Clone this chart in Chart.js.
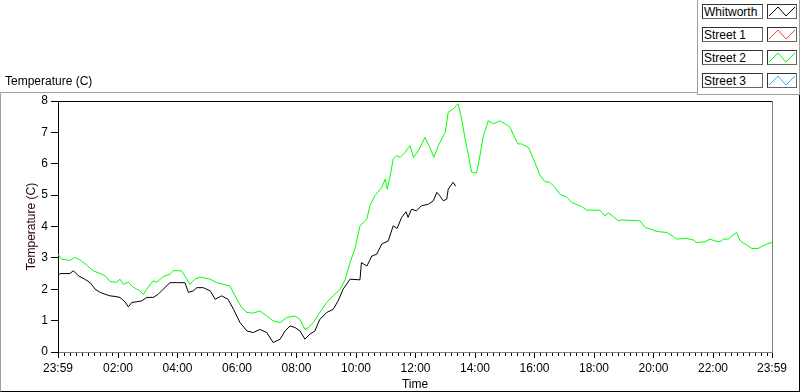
<!DOCTYPE html>
<html><head><meta charset="utf-8">
<script src="https://cdn.jsdelivr.net/npm/chart.js@4/dist/chart.umd.min.js"></script>
<style>
html,body{margin:0;padding:0;background:#fff;}
#wrap{position:relative;width:800px;height:392px;overflow:hidden;font-family:"Liberation Sans",Arial,sans-serif;font-size:12px;color:#000;}
#c{position:absolute;left:0;top:0;}
#frame{position:absolute;left:0;top:92px;width:798px;height:298px;border-left:1px solid #a0a0a0;border-top:1px solid #a0a0a0;border-right:1px solid #000;border-bottom:1px solid #000;}
#legend{position:absolute;left:697px;top:-1px;width:101px;height:95px;background:#fff;border-left:1px solid #a0a0a0;border-right:1px solid #a0a0a0;border-bottom:1px solid #a0a0a0;}
.row{position:absolute;left:4px;height:15px;}
.name{position:absolute;left:0;top:0;width:58px;height:13px;border-top:1px solid #333;border-left:1px solid #333;border-bottom:1px solid #666;border-right:1px solid #666;line-height:14px;padding-left:1px;white-space:nowrap;}
.samp{position:absolute;left:65px;top:0;width:28px;height:13px;border-top:1px solid #333;border-left:1px solid #333;border-bottom:1px solid #666;border-right:1px solid #666;}
.samp svg{position:absolute;left:0;top:0;}
#title{position:absolute;left:5px;top:74px;white-space:nowrap;}
</style></head>
<body>
<div id="wrap">
<canvas id="c" width="800" height="392"></canvas>
<div id="frame"></div>
<div id="title">Temperature (C)</div>
<div id="legend"></div>
</div>
<script>
// ---- data (minutes after 23:59 of previous day, temperature in C) ----
const seriesNames = ['Whitworth', 'Street 1', 'Street 2', 'Street 3'];
const seriesColors = ['#000000', '#ff3c3c', '#00ff00', '#33b5ff'];

const whitworthMinutes = [0,4,24,31,41,54,65,75,85,95,105,115,125,135,142,149,159,169,179,192,202,212,226,239,256,263,273,280,293,307,317,330,343,354,367,381,394,407,421,434,448,458,468,478,488,498,508,518,528,542,555,565,575,589,609,612,623,633,643,653,666,676,684,693,702,706,713,723,733,747,757,764,770,777,784,787,797,802];
const whitworthTemps = [2.43,2.5,2.5,2.59,2.43,2.32,2.21,2.0,1.9,1.84,1.79,1.77,1.74,1.6,1.44,1.58,1.6,1.63,1.74,1.74,1.84,2.0,2.21,2.21,2.21,1.9,1.95,2.05,2.05,1.95,1.68,1.79,1.68,1.36,0.94,0.67,0.62,0.72,0.62,0.30,0.41,0.67,0.83,0.78,0.67,0.41,0.57,0.67,1.04,1.26,1.36,1.63,2.0,2.32,2.30,2.85,2.74,3.06,3.12,3.44,3.54,4.02,3.94,4.29,4.47,4.29,4.55,4.5,4.66,4.71,4.82,5.09,4.98,4.82,4.87,5.19,5.41,5.28];

const street1Minutes = [];
const street1Temps = [];

const street2Minutes = [0,7,24,34,44,58,71,85,95,105,118,125,132,142,149,159,165,172,179,192,199,212,226,233,249,260,266,276,286,307,320,333,347,357,370,381,394,407,421,434,448,461,478,488,498,505,515,528,542,555,569,579,589,599,609,623,629,639,653,660,664,670,676,683,690,700,710,717,727,740,750,758,767,781,787,797,807,814,821,828,834,844,851,858,868,878,891,902,912,922,928,935,949,959,972,982,992,1002,1012,1026,1036,1049,1056,1066,1093,1103,1110,1120,1130,1137,1174,1184,1194,1204,1214,1228,1241,1248,1268,1281,1288,1305,1315,1325,1335,1342,1352,1359,1369,1376,1382,1389,1399,1412,1419,1429,1440];
const street2Temps = [3.12,2.96,2.92,3.01,2.94,2.77,2.59,2.5,2.43,2.25,2.22,2.32,2.16,2.23,2.1,2.0,1.95,1.84,2.0,2.27,2.22,2.4,2.48,2.59,2.59,2.32,2.16,2.32,2.39,2.32,2.21,2.16,2.1,1.79,1.42,1.26,1.24,1.31,1.15,0.99,0.94,1.1,1.15,1.04,0.72,0.78,0.94,1.26,1.58,1.79,2.0,2.3,2.85,3.3,4.02,4.24,4.66,4.98,5.25,5.51,5.19,5.62,6.15,6.26,6.2,6.36,6.58,6.2,6.42,6.84,6.52,6.2,6.58,7.0,7.64,7.75,7.91,7.43,6.79,6.26,5.73,5.70,6.26,6.9,7.37,7.27,7.37,7.27,7.16,6.79,6.63,6.63,6.52,6.15,5.63,5.43,5.41,5.25,5.03,4.93,4.77,4.68,4.64,4.52,4.52,4.34,4.43,4.32,4.18,4.21,4.18,3.97,3.92,3.86,3.83,3.81,3.68,3.6,3.62,3.57,3.49,3.51,3.6,3.54,3.51,3.6,3.6,3.70,3.81,3.54,3.47,3.41,3.3,3.3,3.36,3.44,3.49];

const street3Minutes = [];
const street3Temps = [];

const xTickMinutes = [0,121,241,361,481,601,721,841,961,1081,1201,1321,1440];
const yTickValues = [0,1,2,3,4,5,6,7,8];

// ---- helpers ----
function pts(ms, vs){ return ms.map((m,i)=>({x:m, y:vs[i]})); }
function fmtTime(v){ const t=(1439+v)%1440; const h=Math.floor(t/60), m=t%60; return String(h).padStart(2,'0')+':'+String(m).padStart(2,'0'); }
const minorTicks = [0]; for(let m=1;m<1440;m+=12) minorTicks.push(m); minorTicks.push(1440);
const majorSet = new Set(xTickMinutes);

// legend (HTML)
const leg = document.getElementById('legend');
seriesNames.forEach((n,i)=>{
  const r=document.createElement('div'); r.className='row'; r.style.top=(5+i*23)+'px';
  r.innerHTML='<div class="name">'+n+'</div><div class="samp"><svg width="28" height="13"><polyline points="1,11 10,2 18,11 27,2" fill="none" stroke="'+seriesColors[i]+'" stroke-width="1"/></svg></div>';
  leg.appendChild(r);
});

const frameTicks = {
  id:'frameTicks',
  afterDraw(chart){
    const {ctx, chartArea:a, scales:{x}} = chart;
    ctx.save(); ctx.lineWidth=1;
    ctx.strokeStyle='#000';
    ctx.beginPath(); ctx.moveTo(a.left, Math.round(a.top)+0.5); ctx.lineTo(a.right, Math.round(a.top)+0.5); ctx.stroke();
    ctx.strokeStyle='#808080';
    ctx.beginPath(); ctx.moveTo(Math.round(a.right)+0.5, a.top); ctx.lineTo(Math.round(a.right)+0.5, a.bottom+1); ctx.stroke();
    ctx.strokeStyle='#000';
    ctx.beginPath();
    for(const m of minorTicks){
      const px=Math.round(x.getPixelForValue(m))+0.5;
      const len=majorSet.has(m)?5:3;
      ctx.moveTo(px, Math.round(a.bottom)+1); ctx.lineTo(px, Math.round(a.bottom)+1+len);
    }
    ctx.stroke();
    ctx.restore();
  }
};

const font = {family:'"Liberation Sans", Arial, sans-serif', size:12};
new Chart(document.getElementById('c'), {
  type:'line',
  data:{ datasets:[
    {label:seriesNames[0], data:pts(whitworthMinutes,whitworthTemps), borderColor:seriesColors[0], order:2},
    {label:seriesNames[1], data:pts(street1Minutes,street1Temps), borderColor:seriesColors[1], order:3},
    {label:seriesNames[2], data:pts(street2Minutes,street2Temps), borderColor:seriesColors[2], order:1},
    {label:seriesNames[3], data:pts(street3Minutes,street3Temps), borderColor:seriesColors[3], order:0}
  ]},
  options:{
    responsive:false, animation:false, devicePixelRatio:1,
    elements:{line:{borderWidth:1, tension:0}, point:{radius:0}},
    layout:{padding:{top:101, right:28, left:0, bottom:0}},
    plugins:{legend:{display:false}, tooltip:{enabled:false}},
    scales:{
      x:{type:'linear', min:0, max:1440,
        afterFit(s){ s.height=40; },
        afterBuildTicks(s){ s.ticks=xTickMinutes.map(v=>({value:v})); },
        grid:{display:false, drawTicks:false},
        border:{display:true, color:'#808080', width:1},
        ticks:{autoSkip:false, maxRotation:0, padding:9, color:'#000', font, callback:(v)=>fmtTime(v)},
        title:{display:true, text:'Time', color:'#000', font, padding:{top:0,bottom:0}}
      },
      y:{min:0, max:8,
        afterFit(s){ s.width=58; },
        afterBuildTicks(s){ s.ticks=yTickValues.map(v=>({value:v})); },
        grid:{drawOnChartArea:false, drawTicks:true, tickLength:7, color:'#000'},
        border:{display:true, color:'#000', width:1},
        ticks:{padding:3, color:'#000', font},
        title:{display:true, text:'Temperature (C)', color:'#2a0000', font, padding:{top:24,bottom:0}}
      }
    }
  },
  plugins:[frameTicks]
});
</script>
</body></html>
